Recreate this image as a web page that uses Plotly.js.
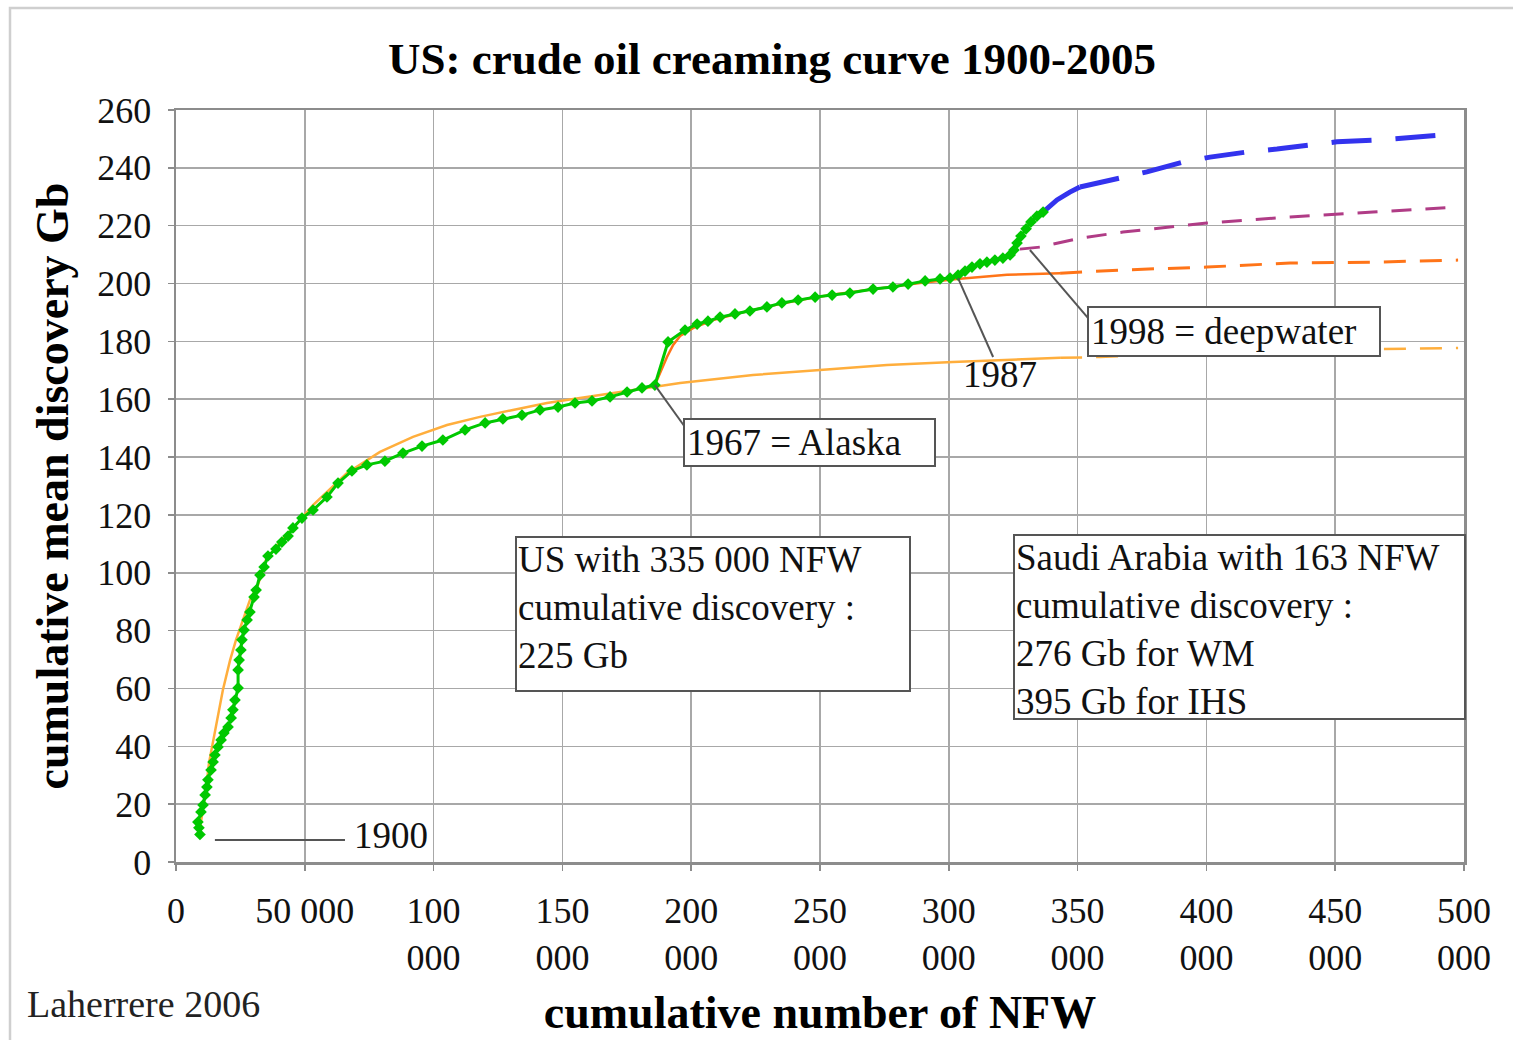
<!DOCTYPE html>
<html>
<head>
<meta charset="utf-8">
<script src="https://cdn.plot.ly/plotly-3.0.1.min.js"></script>
<style>html,body{margin:0;padding:0;background:#fff;}#chart{width:1513px;height:1040px;}</style>
</head>
<body>
<div id="chart"></div>
<script>
// ---- data (cumulative NFW, cumulative mean discovery Gb) ----
const greenX = [9300, 8900, 8500, 9700, 10500, 11300, 12000, 12400, 13600, 14400, 15100, 16300, 17500, 18600, 20200, 21400, 22100, 22900, 24100, 24100, 24500, 25200, 25600, 26400, 27600, 28700, 30300, 31100, 32600, 34200, 35700, 38800, 41100, 43500, 45400, 48900, 53200, 58600, 62900, 68300, 74100, 81100, 88100, 95500, 103600, 112200, 120000, 126900, 134300, 141300, 148300, 154900, 161500, 168500, 175100, 180900, 185900, 191000, 197600, 202300, 206500, 211200, 217000, 222800, 229400, 235200, 241500, 248100, 254700, 261600, 270600, 278300, 284200, 290800, 296600, 300500, 303600, 306300, 309000, 312100, 314800, 317900, 321000, 323800, 325300, 326500, 328000, 330000, 331900, 334200, 336600];
const greenY = [9.5, 11.8, 13.8, 17.3, 19.7, 23.2, 25.9, 28.4, 31.8, 34.6, 37.0, 39.8, 42.2, 44.6, 46.7, 49.8, 52.6, 56.0, 60.2, 66.4, 69.8, 73.3, 76.8, 80.2, 83.7, 86.4, 91.6, 94.0, 99.2, 102.0, 105.8, 108.2, 110.6, 112.7, 115.5, 118.9, 121.7, 126.2, 131.0, 135.2, 137.3, 138.6, 141.4, 143.8, 145.9, 149.4, 151.8, 153.2, 154.5, 156.3, 157.3, 158.7, 159.4, 160.8, 162.5, 163.9, 164.9, 179.8, 183.9, 186.0, 187.0, 188.4, 189.5, 190.5, 191.9, 193.3, 194.3, 195.3, 196.0, 196.7, 198.1, 198.8, 199.8, 200.9, 201.6, 201.9, 202.9, 204.3, 205.7, 206.8, 207.4, 208.1, 208.8, 209.9, 211.6, 214.0, 216.4, 218.9, 221.3, 223.3, 224.7];

const blueSolidX = [336600, 342000, 347000, 350900];
const blueSolidY = [224.7, 228.9, 231.6, 233.4];
const blueDashX = [350900, 358700, 366500, 376900, 390900, 401400, 415800, 427400, 441400, 450700, 466200, 476300, 492600];
const blueDashY = [233.4, 235.1, 236.5, 238.6, 242.0, 243.7, 245.5, 246.5, 247.9, 249.0, 249.6, 250.3, 251.4];

const purpleX = [327600, 335400, 350900, 367600, 400200, 432500, 464700, 497700];
const purpleY = [211.9, 212.6, 215.7, 217.8, 220.9, 223.0, 224.7, 226.5];

const orangeUpSolidX = [185900, 188300, 190600, 193000, 195700, 200700, 208500, 218900, 230600, 242200, 253900, 265500, 277200, 288800, 303200, 322600, 343200];
const orangeUpSolidY = [164.9, 170.1, 174.6, 178.8, 181.9, 184.6, 187.4, 189.8, 192.2, 194.3, 196.0, 197.4, 198.8, 200.2, 201.6, 203.0, 203.6];
const orangeUpDashX = [343200, 367600, 400200, 432500, 464700, 497700];
const orangeUpDashY = [203.6, 204.7, 205.7, 207.1, 207.4, 208.1];

const orangeLowSolidX = [8900, 10500, 11600, 12800, 15100, 18200, 21000, 23300, 26000, 28700, 31800, 34900, 40000, 45800, 53200, 66400, 79200, 92000, 105200, 118000, 130800, 144000, 156800, 169600, 182800, 195700, 224000, 250000, 276000, 301600, 319900, 343200];
const orangeLowSolidY = [9.3, 18.0, 24.9, 34.2, 45.6, 59.5, 69.8, 76.8, 83.7, 90.6, 95.8, 104.4, 110.3, 115.8, 123.4, 134.5, 141.8, 147.0, 151.1, 153.9, 156.3, 158.7, 160.4, 162.2, 163.9, 165.6, 168.4, 170.1, 171.8, 172.9, 173.6, 174.3];
const orangeLowDashX = [343200, 358700, 397500, 436300, 497700];
const orangeLowDashY = [174.3, 174.6, 176.0, 177.0, 177.7];

const xTickVals = [0, 50000, 100000, 150000, 200000, 250000, 300000, 350000, 400000, 450000, 500000];
const xTickText = ['0', '50 000', '100<br>000', '150<br>000', '200<br>000', '250<br>000', '300<br>000', '350<br>000', '400<br>000', '450<br>000', '500<br>000'];

// ---- styles ----
const SERIF = '"Liberation Serif", "Times New Roman", serif';
const GREEN = '#00c800';

const traces = [
  {x: orangeLowSolidX, y: orangeLowSolidY, mode: 'lines', line: {color: '#ffae3c', width: 2.5}, hoverinfo: 'skip'},
  {x: orangeLowDashX, y: orangeLowDashY, mode: 'lines', line: {color: '#ffae3c', width: 2.5, dash: '22px,14px'}, hoverinfo: 'skip'},
  {x: orangeUpSolidX, y: orangeUpSolidY, mode: 'lines', line: {color: '#ff7418', width: 2.5}, hoverinfo: 'skip'},
  {x: orangeUpDashX, y: orangeUpDashY, mode: 'lines', line: {color: '#ff7418', width: 3, dash: '22px,14px'}, hoverinfo: 'skip'},
  {x: purpleX, y: purpleY, mode: 'lines', line: {color: '#b03c86', width: 3, dash: '20px,14px'}, hoverinfo: 'skip'},
  {x: blueSolidX, y: blueSolidY, mode: 'lines', line: {color: '#3333ee', width: 5}, hoverinfo: 'skip'},
  {x: blueDashX, y: blueDashY, mode: 'lines', line: {color: '#3333ee', width: 5, dash: '40px,24px'}, hoverinfo: 'skip'},
  {x: greenX, y: greenY, mode: 'lines+markers', line: {color: GREEN, width: 3}, marker: {symbol: 'diamond', size: 9, color: GREEN}, hoverinfo: 'skip'}
];

const leader = {color: '#555555', width: 2};
const boxFont = {family: SERIF, size: 37, color: '#111'};

const layout = {
  width: 1513, height: 1040,
  margin: {l: 176, r: 49, t: 110, b: 178},
  paper_bgcolor: '#ffffff', plot_bgcolor: '#ffffff',
  showlegend: false,
  font: {family: SERIF, size: 36, color: '#111'},
  title: {text: '<b>US: crude oil creaming curve 1900-2005</b>', font: {family: SERIF, size: 45, color: '#000'},
          x: 772 / 1513, xref: 'container', xanchor: 'center', y: 1 - 58 / 1040, yref: 'container', yanchor: 'middle'},
  xaxis: {
    range: [0, 500000], tickvals: xTickVals, ticktext: xTickText,
    showgrid: true, gridcolor: '#a8a8a8', gridwidth: 1.5,
    showline: true, mirror: true, linecolor: '#8c8c8c', linewidth: 2.5,
    ticks: 'outside', ticklen: 6, tickcolor: '#8c8c8c', tickwidth: 1.5,
    ticklabelstandoff: 9,
    tickfont: {family: SERIF, size: 36, color: '#111'},
    zeroline: false, fixedrange: true,
    title: {text: '<b>cumulative number of NFW</b>', font: {family: SERIF, size: 46, color: '#000'}, standoff: 20}
  },
  yaxis: {
    range: [0, 260], dtick: 20, tick0: 0,
    showgrid: true, gridcolor: '#a8a8a8', gridwidth: 1.5,
    showline: true, mirror: true, linecolor: '#8c8c8c', linewidth: 2.5,
    ticks: 'outside', ticklen: 6, tickcolor: '#8c8c8c', tickwidth: 1.5,
    ticklabelstandoff: 9,
    tickfont: {family: SERIF, size: 36, color: '#111'},
    zeroline: false, fixedrange: true,
    title: {text: '<b>cumulative mean discovery Gb</b>', font: {family: SERIF, size: 46, color: '#000'}, standoff: 14}
  },
  shapes: [
    // outer chart-area frame
    {type: 'rect', xref: 'paper', yref: 'paper', x0: (10 - 176) / 1288, x1: 1.1, y0: -0.4, y1: (862 - 8) / 752,
     line: {color: '#cfcfcf', width: 2.5}, fillcolor: 'rgba(0,0,0,0)', layer: 'below'},
    // leader lines
    {type: 'line', xref: 'x', yref: 'y', x0: 15100, y0: 7.6, x1: 65600, y1: 7.6, line: leader},
    {type: 'line', xref: 'x', yref: 'y', x0: 185900, y0: 164.9, x1: 197500, y1: 150.5, line: leader},
    {type: 'line', xref: 'x', yref: 'y', x0: 303600, y0: 201.9, x1: 317200, y1: 174.6, line: leader},
    {type: 'line', xref: 'x', yref: 'y', x0: 331500, y0: 211.6, x1: 354000, y1: 188.1, line: leader}
  ],
  annotations: [
    {text: '1900', x: 68300, y: 9.3, xref: 'x', yref: 'y', xanchor: 'left', yanchor: 'middle', showarrow: false, font: boxFont},
    {text: '1987', x: 319900, y: 168.4, xref: 'x', yref: 'y', xanchor: 'center', yanchor: 'middle', showarrow: false, font: boxFont},
    {text: '1967 = Alaska', x: 196800, y: 153.5, xref: 'x', yref: 'y', xanchor: 'left', yanchor: 'top', showarrow: false,
     font: boxFont, align: 'left', width: 245, height: 41, bgcolor: '#ffffff', bordercolor: '#555', borderwidth: 2, borderpad: 2},
    {text: '1998 = deepwater', x: 353600, y: 192.2, xref: 'x', yref: 'y', xanchor: 'left', yanchor: 'top', showarrow: false,
     font: boxFont, align: 'left', width: 286, height: 43, bgcolor: '#ffffff', bordercolor: '#555', borderwidth: 2, borderpad: 2},
    {text: 'US with 335 000 NFW<br>cumulative discovery :<br>225 Gb', x: 131600, y: 112.7, xref: 'x', yref: 'y',
     xanchor: 'left', yanchor: 'top', showarrow: false, font: boxFont, align: 'left', valign: 'top',
     width: 390, height: 150, bgcolor: '#ffffff', bordercolor: '#555', borderwidth: 2, borderpad: 1},
    {text: 'Saudi Arabia with 163 NFW<br>cumulative discovery :<br>276 Gb for WM<br>395 Gb for IHS', x: 324900, y: 113.4, xref: 'x', yref: 'y',
     xanchor: 'left', yanchor: 'top', showarrow: false, font: boxFont, align: 'left', valign: 'top',
     width: 447, height: 180, bgcolor: '#ffffff', bordercolor: '#555', borderwidth: 2, borderpad: 1},
    {text: 'Laherrere 2006', xref: 'paper', yref: 'paper', x: (25 - 176) / 1288, y: (862 - 1004) / 752,
     xanchor: 'left', yanchor: 'middle', showarrow: false, font: {family: SERIF, size: 38, color: '#222'}}
  ]
};

Plotly.newPlot('chart', traces, layout, {displayModeBar: false, staticPlot: true});
</script>
</body>
</html>
